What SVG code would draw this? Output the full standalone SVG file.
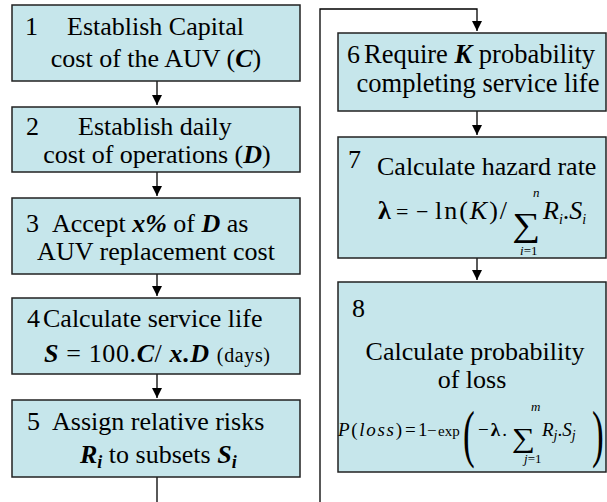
<svg xmlns="http://www.w3.org/2000/svg" width="607" height="502" viewBox="0 0 607 502">
<style>
.box{fill:#c6e6eb;stroke:#222;stroke-width:1.5}
text{font-family:"Liberation Serif","Times New Roman",serif;fill:#000}
.t{font-size:26px}
.m{font-size:19px}
.bi{font-weight:bold;font-style:italic}
.it{font-style:italic}
.sub{font-size:14px;font-style:italic}
.lim{font-size:13px;font-style:italic}
.con{fill:none;stroke:#000;stroke-width:1.3}
</style>
<defs>
<marker id="ah" markerUnits="userSpaceOnUse" markerWidth="12" markerHeight="12" refX="10" refY="5" orient="auto">
<path d="M0,0 L10,5 L0,10 Z" fill="#000"/>
</marker>
</defs>
<rect width="607" height="502" fill="#fff"/>
<g id="connectors">
<path class="con" d="M157,81 V105" marker-end="url(#ah)"/>
<path class="con" d="M157,172 V196" marker-end="url(#ah)"/>
<path class="con" d="M157,274 V296" marker-end="url(#ah)"/>
<path class="con" d="M157,374 V398" marker-end="url(#ah)"/>
<path class="con" d="M157,477 V512 H320 V9 H477 V31" marker-end="url(#ah)"/>
<path class="con" d="M477,111 V135" marker-end="url(#ah)"/>
<path class="con" d="M477,258 V280" marker-end="url(#ah)"/>
</g>
<g id="node1">
<rect class="box" x="12" y="5" width="288" height="76"/>
<text class="t" x="25" y="35">1</text>
<text class="t" x="67" y="35">Establish Capital</text>
<text class="t" x="156" y="67" text-anchor="middle">cost of the AUV (<tspan class="bi">C</tspan>)</text>
</g>
<g id="node2">
<rect class="box" x="12" y="107" width="288" height="65"/>
<text class="t" x="26" y="135">2</text>
<text class="t" x="78" y="135">Establish daily</text>
<text class="t" x="157" y="163" text-anchor="middle">cost of operations (<tspan class="bi">D</tspan>)</text>
</g>
<g id="node3">
<rect class="box" x="12" y="198" width="288" height="76"/>
<text class="t" x="26" y="232">3</text>
<text class="t" x="52" y="232">Accept <tspan class="bi">x%</tspan> of <tspan class="bi">D</tspan> as</text>
<text class="t" x="156" y="260" text-anchor="middle">AUV replacement cost</text>
</g>
<g id="node4">
<rect class="box" x="12" y="298" width="288" height="76"/>
<text class="t" x="27" y="327">4</text>
<text class="t" x="43" y="327">Calculate service life</text>
<text class="t" x="44" y="362" textLength="226" lengthAdjust="spacing"><tspan class="bi">S</tspan> = 100.<tspan class="bi">C</tspan>/ <tspan class="bi">x.D</tspan> <tspan style="font-size:20px">(days)</tspan></text>
</g>
<g id="node5">
<rect class="box" x="12" y="400" width="288" height="77"/>
<text class="t" x="27" y="430">5</text>
<text class="t" x="52" y="430">Assign relative risks</text>
<text class="t" x="80" y="463"><tspan class="bi">R</tspan><tspan class="bi" style="font-size:18px" dy="5">i</tspan><tspan dy="-5"> to subsets </tspan><tspan class="bi">S</tspan><tspan class="bi" style="font-size:18px" dy="5">i</tspan></text>
</g>
<g id="node6">
<rect class="box" x="338" y="33" width="268" height="78"/>
<text class="t" x="347" y="63">6</text>
<text class="t" x="364" y="63" style="font-size:26.5px">Require <tspan class="bi">K</tspan> probability</text>
<text class="t" x="478" y="92" text-anchor="middle" style="font-size:26.5px">completing service life</text>
</g>
<g id="node7">
<rect class="box" x="338" y="137" width="268" height="121"/>
<text class="t" x="348" y="168">7</text>
<text class="t" x="377" y="175">Calculate hazard rate</text>
<text class="t" x="378" y="219"><tspan font-weight="bold">λ</tspan></text>
<text x="396" y="219" style="font-size:22px">=</text>
<text x="416" y="219" style="font-size:22px">−</text>
<text class="t" x="435" y="219" textLength="72" lengthAdjust="spacing">ln(<tspan class="it">K</tspan>)/</text>
<text x="0" y="0" transform="translate(512,236) scale(1.15,1)" style="font-size:34px">∑</text>
<text class="lim" x="533" y="197">n</text>
<text class="lim" x="520" y="255">i<tspan font-style="normal">=1</tspan></text>
<text class="t" x="543" y="219"><tspan class="it">R</tspan><tspan class="sub" dy="5">i</tspan><tspan dy="-5">.</tspan><tspan class="it">S</tspan><tspan class="sub" dy="5">i</tspan></text>
</g>
<g id="node8">
<rect class="box" x="338" y="282" width="268" height="190"/>
<text class="t" x="352" y="317">8</text>
<text class="t" x="475" y="360" text-anchor="middle">Calculate probability</text>
<text class="t" x="472" y="388" text-anchor="middle">of loss</text>
<text class="m" x="338" y="436" textLength="64" lengthAdjust="spacing"><tspan class="it">P</tspan>(<tspan class="it">loss</tspan>)</text>
<text class="m" x="405" y="436">=</text>
<text class="m" x="418" y="436">1</text>
<text x="427" y="436" style="font-size:17px">−</text>
<text x="438" y="436" style="font-size:15px">exp</text>
<text x="0" y="0" transform="translate(463,455) scale(0.55,1)" style="font-size:64px">(</text>
<text class="m" x="478" y="436" textLength="29" lengthAdjust="spacing">−<tspan font-weight="bold">λ</tspan>.</text>
<text x="0" y="0" transform="translate(512,447) scale(1.2,1)" style="font-size:27px">∑</text>
<text class="lim" x="531" y="411">m</text>
<text class="lim" x="524" y="463">j<tspan font-style="normal">=1</tspan></text>
<text class="m" x="542" y="436"><tspan class="it">R</tspan><tspan class="sub" dy="4">j</tspan><tspan dy="-4">.</tspan><tspan class="it">S</tspan><tspan class="sub" dy="4">j</tspan></text>
<text x="0" y="0" transform="translate(592,455) scale(0.55,1)" style="font-size:64px">)</text>
</g>
</svg>
